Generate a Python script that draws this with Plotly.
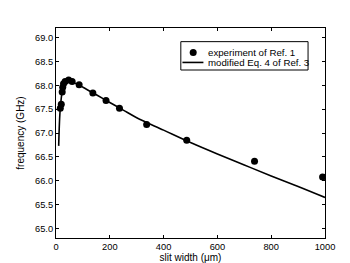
import plotly.graph_objects as go

# experimental data (slit width in um, frequency in GHz)
exp_x = [16, 19.6, 23, 25, 28, 34, 47, 60, 86, 137, 186, 236, 337, 486, 738, 991]
exp_y = [67.52, 67.60, 67.86, 67.96, 68.03, 68.08, 68.11, 68.08, 68.01, 67.84, 67.68, 67.52, 67.18, 66.85, 66.41, 66.08]

# model curve
mod_x = [10, 12, 15, 20, 25, 30, 40, 50, 60, 80, 100, 150, 200, 250, 300, 400, 500, 600, 700, 800, 900, 1000]
mod_y = [66.73, 67.1, 67.45, 67.75, 67.93, 68.02, 68.08, 68.09, 68.07, 68.02, 67.96, 67.8, 67.64, 67.48,
         67.32, 67.06, 66.8, 66.56, 66.33, 66.1, 65.88, 65.65]

x_ticks = [0, 200, 400, 600, 800, 1000]
y_ticks = [65.0, 65.5, 66.0, 66.5, 67.0, 67.5, 68.0, 68.5, 69.0]

names = ["experiment of Ref. 1", "modified Eq. 4 of Ref. 3"]

FONT = "Liberation Sans, Arial"

fig = go.Figure()
fig.add_trace(go.Scatter(x=exp_x, y=exp_y, mode="markers", name=names[0], showlegend=False,
                         marker=dict(color="black", size=7)))
fig.add_trace(go.Scatter(x=mod_x, y=mod_y, mode="lines", name=names[1], showlegend=False,
                         line=dict(color="black", width=1.6), line_shape="spline"))

axis_common = dict(showgrid=False, zeroline=False, showline=True, linecolor="black", linewidth=1,
                   mirror="ticks", ticks="inside", ticklen=3, tickcolor="black",
                   tickfont=dict(family=FONT, size=9.3, color="black"))

fig.update_xaxes(range=[0, 1000], tickvals=x_ticks, ticktext=[str(v) for v in x_ticks],
                 title=dict(text="slit width (\u03bcm)", standoff=0,
                            font=dict(family=FONT, size=10, color="black")),
                 **axis_common)
fig.update_yaxes(range=[64.8, 69.2], tickvals=y_ticks, ticktext=[f"{v:.1f}" for v in y_ticks],
                 title=dict(text="frequency (GHz)", standoff=8,
                            font=dict(family=FONT, size=10, color="black")),
                 **axis_common)

# manual legend (box, symbol samples, labels) in paper coordinates
shapes = [
    dict(type="rect", xref="paper", yref="paper", x0=0.464, x1=0.937, y0=0.800, y1=0.935,
         line=dict(color="black", width=1), fillcolor="white", layer="above"),
    dict(type="circle", xref="paper", yref="paper", xsizemode="pixel", ysizemode="pixel",
         xanchor=0.510, yanchor=0.883, x0=-3.5, x1=3.5, y0=-3.5, y1=3.5,
         fillcolor="black", line=dict(color="black", width=0), layer="above"),
    dict(type="line", xref="paper", yref="paper", x0=0.470, x1=0.548, y0=0.836, y1=0.836,
         line=dict(color="black", width=1.6), layer="above"),
]
annotations = [
    dict(text=names[0], xref="paper", yref="paper", x=0.556, y=0.883, xanchor="left", yanchor="middle",
         showarrow=False, font=dict(family=FONT, size=9.7, color="black")),
    dict(text=names[1], xref="paper", yref="paper", x=0.556, y=0.836, xanchor="left", yanchor="middle",
         showarrow=False, font=dict(family=FONT, size=9.7, color="black")),
]

fig.update_layout(
    width=350, height=263,
    margin=dict(l=46, r=33, t=20, b=29),
    paper_bgcolor="white", plot_bgcolor="white",
    showlegend=False,
    shapes=shapes,
    annotations=annotations,
)

fig.write_html("out.html")
